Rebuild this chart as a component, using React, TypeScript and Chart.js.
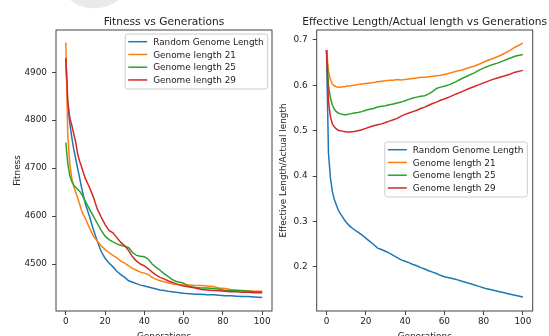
import React, { useEffect, useRef } from "react";
import { Chart, registerables } from "chart.js";

Chart.register(...registerables);

// ---------- data ----------
const generations = [
  0, 1, 2, 3, 4, 5, 6, 7, 8, 9, 10, 12, 14, 16, 18, 20, 22, 24, 26, 28, 30, 32, 34, 36, 38, 40,
  42, 44, 46, 48, 50, 52, 54, 56, 58, 60, 63, 66, 69, 72, 75, 78, 81, 84, 87, 90, 93, 96, 100,
];

const fitnessRandom = [
  4930, 4830, 4795, 4765, 4740, 4720, 4700, 4680, 4660, 4642, 4625, 4600, 4572, 4548, 4526, 4512,
  4502, 4494, 4485, 4478, 4472, 4465, 4462, 4459, 4456, 4454, 4452, 4450, 4448, 4446, 4445, 4443,
  4442, 4441, 4440, 4439, 4438, 4437, 4437, 4436, 4436, 4435, 4434, 4434, 4433, 4432, 4432, 4431,
  4430,
];
const fitness21 = [
  4962, 4770, 4710, 4680, 4662, 4650, 4638, 4625, 4612, 4602, 4595, 4575, 4558, 4548, 4538, 4530,
  4524, 4518, 4513, 4506, 4502, 4496, 4491, 4487, 4483, 4481, 4478, 4472, 4468, 4465, 4463, 4461,
  4459, 4458, 4457, 4456, 4456, 4455, 4455, 4454, 4453, 4450, 4449, 4447, 4446, 4445, 4444, 4443,
  4443,
];
const fitness25 = [
  4753, 4710, 4685, 4672, 4665, 4660, 4656, 4652, 4646, 4638, 4630, 4615, 4600, 4585, 4570, 4558,
  4551, 4546, 4542, 4539, 4537, 4534, 4524, 4518, 4516, 4515, 4510, 4500, 4493, 4487, 4480, 4474,
  4468, 4464, 4462, 4460, 4453, 4451, 4450, 4450, 4449, 4448, 4445, 4445, 4444, 4444, 4443, 4442,
  4442,
];
const fitness29 = [
  4929, 4840, 4805, 4790, 4772, 4755, 4730, 4715, 4703, 4690, 4678, 4660, 4640, 4615, 4598, 4582,
  4570, 4565, 4555, 4545, 4538, 4528, 4515, 4506, 4500, 4496, 4490, 4483, 4477, 4472, 4469, 4465,
  4462, 4459, 4456, 4454, 4452, 4450, 4447, 4446, 4445, 4444, 4443, 4442, 4442, 4441, 4441, 4440,
  4440,
];

const ratioRandom = [
  0.678, 0.45, 0.395, 0.365, 0.348, 0.336, 0.325, 0.317, 0.311, 0.304, 0.298, 0.289, 0.282, 0.276,
  0.27, 0.263, 0.256, 0.249, 0.241, 0.238, 0.234, 0.23, 0.225, 0.22, 0.215, 0.212, 0.209, 0.205,
  0.202, 0.198, 0.195, 0.191, 0.188, 0.185, 0.181, 0.178, 0.175, 0.172, 0.168, 0.164, 0.16, 0.156,
  0.152, 0.149, 0.146, 0.143, 0.14, 0.137, 0.133,
];
const ratio21 = [
  0.678, 0.632, 0.612, 0.603, 0.599, 0.597, 0.596, 0.596, 0.597, 0.597, 0.598, 0.599, 0.6, 0.602,
  0.603, 0.604, 0.605, 0.606, 0.608, 0.609, 0.61, 0.611, 0.611, 0.613, 0.612, 0.613, 0.614, 0.615,
  0.616, 0.618, 0.618, 0.619, 0.62, 0.621, 0.622, 0.624, 0.627, 0.631, 0.634, 0.638, 0.642, 0.647,
  0.653, 0.658, 0.663, 0.669, 0.676, 0.684, 0.693,
];
const ratio25 = [
  0.678, 0.6, 0.572, 0.556, 0.547, 0.542, 0.539, 0.537, 0.536, 0.535, 0.535, 0.537, 0.539, 0.54,
  0.542, 0.545, 0.547, 0.549, 0.552, 0.554, 0.555, 0.557, 0.559, 0.561, 0.563, 0.566, 0.569, 0.572,
  0.574, 0.576, 0.577, 0.581, 0.586, 0.593, 0.596, 0.598, 0.602, 0.608, 0.615, 0.621, 0.627, 0.634,
  0.64, 0.645, 0.649, 0.654, 0.659, 0.664, 0.668,
];
const ratio29 = [
  0.678, 0.565, 0.53, 0.515, 0.508, 0.504, 0.501, 0.5, 0.499, 0.498, 0.497, 0.497, 0.498, 0.5,
  0.502, 0.505, 0.508, 0.511, 0.513, 0.515, 0.518, 0.521, 0.524, 0.527, 0.532, 0.536, 0.539, 0.542,
  0.545, 0.549, 0.552, 0.556, 0.56, 0.563, 0.567, 0.57, 0.575, 0.581, 0.586, 0.592, 0.597, 0.602,
  0.607, 0.612, 0.616, 0.62, 0.624, 0.629, 0.633,
];

const seriesLabels = [
  "Random Genome Length",
  "Genome length 21",
  "Genome length 25",
  "Genome length 29",
];
const xTicks = [0, 20, 40, 60, 80, 100];
const fitnessTicks = [4500, 4600, 4700, 4800, 4900];
const ratioTicks = [0.2, 0.3, 0.4, 0.5, 0.6, 0.7];

// ---------- styling ----------
const COLORS = ["#1f77b4", "#ff7f0e", "#2ca02c", "#d62728"];
const FAMILY = "'DejaVu Sans', 'Liberation Sans', sans-serif";
const FS = 8.9;
const TEXT = "#222222";

const mplPlugin = {
  id: "mpl",
  afterDraw(chart: any, _args: any, opts: any) {
    const { ctx, chartArea: a } = chart;
    ctx.save();
    // frame (all four spines)
    ctx.strokeStyle = "#444444";
    ctx.lineWidth = 1;
    ctx.strokeRect(a.left, a.top, a.right - a.left, a.bottom - a.top);

    // title
    ctx.fillStyle = TEXT;
    ctx.font = `${FS * 1.2}px ${FAMILY}`;
    ctx.textAlign = "center";
    ctx.textBaseline = "alphabetic";
    ctx.fillText(opts.title, (a.left + a.right) / 2, a.top - 5);

    // legend
    ctx.font = `${FS}px ${FAMILY}`;
    const labels = chart.data.datasets.map((d: any) => d.label);
    let tw = 0;
    labels.forEach((l: string) => (tw = Math.max(tw, ctx.measureText(l).width)));
    const w = 3 + 19 + 6 + tw + 4;
    const h = 55;
    const bx = a.right - opts.legendRight - w;
    const by =
      opts.legendLoc === "upper right" ? a.top + 4 : (a.top + a.bottom) / 2 - h / 2 - 1;
    ctx.beginPath();
    (ctx as any).roundRect(bx, by, w, h, 2.5);
    ctx.fillStyle = "rgba(255,255,255,0.8)";
    ctx.fill();
    ctx.strokeStyle = "#cccccc";
    ctx.lineWidth = 1;
    ctx.stroke();
    chart.data.datasets.forEach((d: any, i: number) => {
      const cy = by + 7.7 + i * 12.75;
      ctx.strokeStyle = d.borderColor;
      ctx.lineWidth = 1.5;
      ctx.beginPath();
      ctx.moveTo(bx + 3, cy);
      ctx.lineTo(bx + 22, cy);
      ctx.stroke();
      ctx.fillStyle = TEXT;
      ctx.textAlign = "left";
      ctx.textBaseline = "alphabetic";
      ctx.fillText(d.label, bx + 28, cy + 3.2);
    });
    ctx.restore();
  },
};

function makeConfig(
  series: number[][],
  yMin: number,
  yMax: number,
  yTicks: number[],
  yTitle: string,
  title: string,
  yAxisWidth: number,
  yTitlePad: number,
  rightPad: number,
  legendLoc: string,
  legendRight: number
): any {
  const font = { family: FAMILY, size: FS };
  return {
    type: "line",
    data: {
      datasets: series.map((s, i) => ({
        label: seriesLabels[i],
        data: generations.map((g, j) => ({ x: g, y: s[j] })),
        borderColor: COLORS[i],
        backgroundColor: COLORS[i],
        borderWidth: 1.5,
        pointRadius: 0,
        tension: 0,
        fill: false,
        order: 3 - i,
      })),
    },
    options: {
      animation: false,
      responsive: false,
      maintainAspectRatio: false,
      events: [],
      layout: { padding: { left: 0, right: rightPad, top: 30, bottom: 0 } },
      plugins: {
        legend: { display: false },
        tooltip: { enabled: false },
        title: { display: false },
        mpl: { title, legendLoc, legendRight },
      },
      scales: {
        x: {
          type: "linear",
          min: -5,
          max: 105,
          afterBuildTicks: (s: any) => {
            s.ticks = xTicks.map((v) => ({ value: v }));
          },
          afterFit: (s: any) => {
            s.height = 39;
          },
          grid: { drawOnChartArea: false, drawTicks: true, tickLength: 4, color: "#444444" },
          border: { display: false },
          ticks: {
            font,
            color: TEXT,
            padding: 1.5,
            maxRotation: 0,
            autoSkip: false,
            callback: (v: any) => String(v),
          },
          title: {
            display: true,
            text: "Generations",
            font,
            color: TEXT,
            padding: { top: 0, bottom: 7.5 },
          },
        },
        y: {
          type: "linear",
          min: yMin,
          max: yMax,
          afterBuildTicks: (s: any) => {
            s.ticks = yTicks.map((v) => ({ value: v }));
          },
          afterFit: (s: any) => {
            s.width = yAxisWidth;
          },
          grid: { drawOnChartArea: false, drawTicks: true, tickLength: 4, color: "#444444" },
          border: { display: false },
          ticks: {
            font,
            color: TEXT,
            padding: 5,
            autoSkip: false,
            callback: (v: any) => String(v),
          },
          title: {
            display: true,
            text: yTitle,
            font,
            color: TEXT,
            padding: { top: yTitlePad, bottom: 0 },
          },
        },
      },
    },
    plugins: [mplPlugin],
  };
}

export default function App() {
  const leftRef = useRef<HTMLCanvasElement>(null);
  const rightRef = useRef<HTMLCanvasElement>(null);

  useEffect(() => {
    const left = new Chart(
      leftRef.current as HTMLCanvasElement,
      makeConfig(
        [fitnessRandom, fitness21, fitness25, fitness29],
        4402,
        4988,
        fitnessTicks,
        "Fitness",
        "Fitness vs Generations",
        56,
        12,
        2,
        "upper right",
        4.3
      )
    );
    const right = new Chart(
      rightRef.current as HTMLCanvasElement,
      makeConfig(
        [ratioRandom, ratio21, ratio25, ratio29],
        0.1023,
        0.722,
        ratioTicks,
        "Effective Length/Actual length",
        "Effective Length/Actual length vs Generations",
        42.7,
        4.7,
        16.3,
        "center right",
        5.4
      )
    );
    return () => {
      left.destroy();
      right.destroy();
    };
  }, []);

  return (
    <div
      style={{
        position: "absolute",
        left: 0,
        top: 0,
        width: 549,
        height: 336,
        overflow: "hidden",
        background: "#ffffff",
      }}
    >
      <div
        style={{
          position: "absolute",
          left: 58,
          top: -62,
          width: 76,
          height: 70,
          borderRadius: "50%",
          background: "#e9e9e9",
          transform: "rotate(-20deg)",
        }}
      />
      <canvas
        ref={leftRef}
        width={274}
        height={350}
        style={{ position: "absolute", left: 0, top: 0, width: 274, height: 350 }}
      />
      <canvas
        ref={rightRef}
        width={275}
        height={350}
        style={{ position: "absolute", left: 274, top: 0, width: 275, height: 350 }}
      />
    </div>
  );
}
